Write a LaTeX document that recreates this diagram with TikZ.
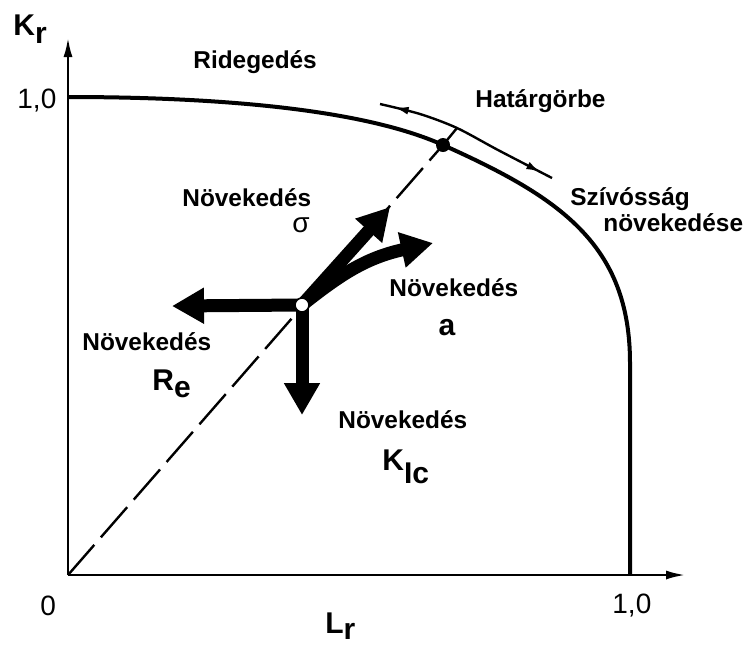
\documentclass[tikz,border=0pt]{standalone}
\usepackage{fontspec}
\setmainfont{Liberation Sans}
\usetikzlibrary{arrows.meta,decorations.markings}
\newcommand{\lowsub}[2][4pt]{\raisebox{-#1}{#2}}

\begin{document}
\begin{tikzpicture}[x=0.5pt,y=-0.5pt,
  lbl/.style={font=\bfseries\fontsize{12.2}{14}\selectfont,anchor=base west,inner sep=0pt},
  sym/.style={font=\bfseries\fontsize{15}{17}\selectfont,anchor=base west,inner sep=0pt},
  num/.style={font=\fontsize{14}{16}\selectfont,anchor=base west,inner sep=0pt},
  axis/.style={line width=1.4pt,-{Latex[length=10pt,width=4.5pt]}},
  fat/.style={line width=6.5pt,line cap=round,-{Triangle[length=16pt,width=17pt]}},
  hgtip/.tip={Latex[length=7pt,width=4pt]}]
\useasboundingbox (0,0) rectangle (748,645);
\coordinate (O) at (68,575);
\coordinate (ytop) at (68,37);
\coordinate (xend) at (686,575);
\coordinate (pc) at (302,305);
\coordinate (lt) at (172,306);
\coordinate (dn) at (302,415);
\coordinate (ur) at (390,207);
\coordinate (rt) at (433,243);
\coordinate (tick) at (457,128);
\draw[axis] (O) -- (ytop);
\draw[axis] (O) -- (xend);
\draw[line width=2pt] (68,97) .. controls (218,97) and (363,109) .. (443,145)
  .. controls (559,197) and (630,244) .. (630,363) -- (630,575);
\node[circle,fill,inner sep=0pt,minimum size=7pt] (D) at (443,145) {};
\draw[line width=1.2pt,dash pattern=on 20pt off 5pt] (O) -- (D.center);
\draw[line width=1.2pt] (D.center) -- (tick);
\draw[line width=1.2pt,postaction={decorate},decoration={markings,
  mark=at position 0.08 with {\arrowreversed{hgtip}},
  mark=at position 0.93 with {\arrow{hgtip}}}]
  plot[smooth] coordinates {(380,104) (420,114) (tick) (498,150) (552,178)};
\draw[fat] (pc) -- (lt);
\draw[fat] (pc) -- (dn);
\draw[fat] (pc) -- (ur);
\draw[fat] (pc) .. controls (340,275) and (365,258) .. (rt);
\node[circle,draw,fill=white,line width=0.8pt,inner sep=0pt,minimum size=7pt] (P) at (pc) {};
\node[sym] (kr) at (13,35) {K\lowsub{r}};
\node[sym] (lr) at (325,633) {L\lowsub[3pt]{r}};
\node[num] (y1) at (17,108) {1,0};
\node[num] (x0) at (40,615) {0};
\node[num] (x1) at (612,613) {1,0};
\node[lbl] (rid) at (193,68) {Ridegedés};
\node[lbl] (hat) at (475,107) {Határgörbe};
\node[lbl] (szi) at (570,205) {Szívósság};
\node[lbl] (nov) at (603,231) {növekedése};
\node[lbl] (gs) at (182,206) {Növekedés};
\node[font=\fontsize{14}{16}\selectfont,inner sep=0pt,anchor=base] (sig) at (301,232) {σ};
\node[lbl] (ga) at (389,296) {Növekedés};
\node[sym,anchor=base] (a) at (447,335) {a};
\node[lbl] (gr) at (82,350) {Növekedés};
\node[sym] (re) at (152,390) {R\lowsub[3.5pt]{e}};
\node[lbl] (gk) at (338,428) {Növekedés};
\node[sym] (kic) at (382,470) {K\lowsub[6.5pt]{Ic}};
\end{tikzpicture}
\end{document}
